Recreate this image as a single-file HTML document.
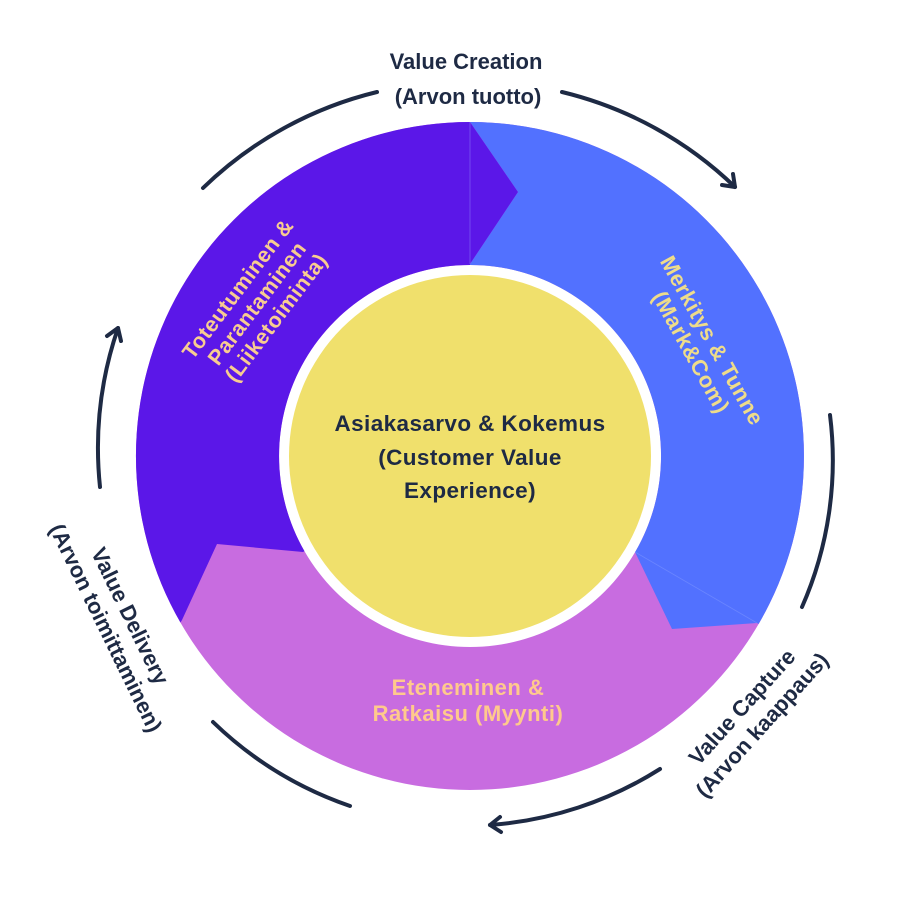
<!DOCTYPE html>
<html><head><meta charset="utf-8"><style>
html,body{margin:0;padding:0;background:#fff;}
svg{display:block;}
text{font-family:"Liberation Sans",sans-serif;font-weight:bold;}
</style></head><body>
<svg width="924" height="914" viewBox="0 0 924 914" xmlns="http://www.w3.org/2000/svg">
<defs>
<clipPath id="ring"><path clip-rule="evenodd" fill-rule="evenodd" d="M470,122 A334,334 0 1,1 469.9,122 Z M470,265 A191,191 0 1,0 470.1,265 Z"/></clipPath>
</defs>
<g clip-path="url(#ring)">
<rect x="0" y="0" width="924" height="914" fill="#C86CE0"/>
<polygon fill="#5271FF" points="470,456 470,264 518,192 470,122 470,0 924,0 924,720 800,648 757,623 672,629 635,552"/>
<polygon fill="#5B17E8" points="470,456 303,552 217,544 182,620 120,720 0,720 0,0 470,0 470,122 518,192 470,264"/>
<line x1="470" y1="122" x2="470" y2="264" stroke="#7a55f0" stroke-width="0.8"/>
<line x1="635" y1="552" x2="757" y2="623" stroke="#6a85ff" stroke-width="0.8"/>
</g>
<circle cx="470" cy="456" r="181" fill="#F0E06C"/>

<g fill="none" stroke="#1E2A44" stroke-width="4" stroke-linecap="round" stroke-linejoin="round">
<path d="M203,188 A378,378 0 0,1 377,92"/>
<path d="M562,92 A376,376 0 0,1 735,187"/>
<path d="M722,185 L735,187 L733,174"/>
<path d="M830,415 A364,364 0 0,1 802,607"/>
<path d="M660,769 A368,368 0 0,1 490,825"/>
<path d="M500,817 L490,825 L501,832"/>
<path d="M350,806 A370,370 0 0,1 213,722"/>
<path d="M100,487 A372,372 0 0,1 118,328"/>
<path d="M121,341 L118,328 L107,336"/>
</g>

<g fill="#1E2A44" font-size="22" text-anchor="middle">
<text x="466" y="69">Value Creation</text>
<text x="468" y="104">(Arvon tuotto)</text>
<g font-size="22.5" letter-spacing="0.4">
<text x="470" y="431">Asiakasarvo &amp; Kokemus</text>
<text x="470" y="465">(Customer Value</text>
<text x="470" y="498">Experience)</text>
</g>
<g transform="translate(752,716) rotate(-48)">
<text x="0" y="-6">Value Capture</text>
<text x="0" y="21">(Arvon kaappaus)</text>
</g>
<g transform="translate(118,622) rotate(64)">
<text x="0" y="-6">Value Delivery</text>
<text x="0" y="21">(Arvon toimittaminen)</text>
</g>
</g>

<g font-size="22" text-anchor="middle" letter-spacing="0.5">
<text x="468" y="695" fill="#FFC98C">Eteneminen &amp;</text>
<text x="468" y="721" fill="#FFC98C">Ratkaisu (Myynti)</text>
<g transform="translate(258,304) rotate(-53)" fill="#F8CC90" font-size="21.5">
<text x="0" y="-18">Toteutuminen &amp;</text>
<text x="0" y="6">Parantaminen</text>
<text x="0" y="30">(Liiketoiminta)</text>
</g>
<g transform="translate(702,346) rotate(61)" fill="#EEDC8A">
<text x="0" y="-4">Merkitys &amp; Tunne</text>
<text x="0" y="20">(Mark&amp;Com)</text>
</g>
</g>
</svg>
</body></html>
